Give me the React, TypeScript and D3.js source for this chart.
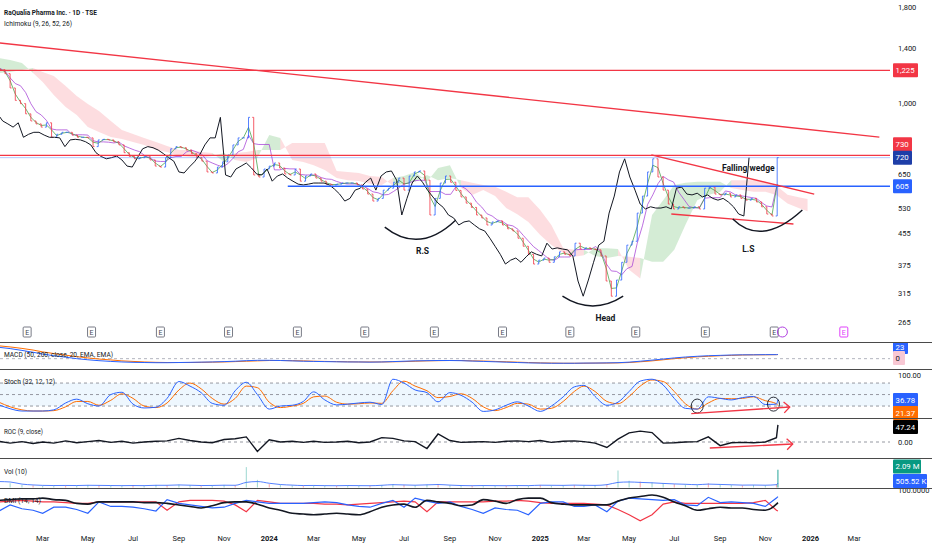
import React from 'react';
import * as d3 from 'd3';

const W = 932;
const H = 550;
const PLOT_R = 890;
const FONT = 'Roboto, sans-serif';

// weekly closes, first week starts 2022-09-12
const WEEK0 = new Date(2022, 8, 12);
const closes = [
  1060, 1090, 1110, 1140, 1170, 1200, 1230, 1260, 1290, 1310,
  1290, 1270, 1250, 1240, 1230, 1240, 1230, 1200, 1100, 1020,
  1000, 940, 900, 884, 867, 890, 815, 830, 840, 840,
  826, 815, 815, 812, 770, 802, 805, 802, 793, 778,
  742, 725, 715, 720, 727, 710, 684, 680, 720, 760,
  770, 765, 754, 738, 720, 705, 660, 656, 680, 702,
  732, 778, 812, 812, 920, 648, 640, 672, 684, 697,
  676, 652, 648, 672, 624, 644, 652, 636, 624, 613,
  610, 613, 617, 617, 617, 610, 595, 577, 553, 562,
  591, 598, 620, 636, 591, 644, 660, 664, 628, 508,
  562, 617, 644, 620, 590, 567, 546, 532, 508, 499,
  478, 487, 490, 478, 467, 461, 441, 420, 400, 377,
  386, 391, 381, 394, 406, 400, 396, 428, 413, 416,
  413, 411, 396, 340, 310, 342, 381, 423, 433, 514,
  570, 660, 715, 640, 591, 543, 527, 534, 530, 530,
  534, 527, 598, 602, 577, 574, 580, 567, 574, 562,
  556, 562, 550, 534, 511, 505, 720,
];

// ichimoku cloud edges, 1st and 16th of each month from Jan 2023, last one 2025-12-28
const cloudA = [
  1320, 1304, 1280, 1205, 1141, 1054, 980, 933, 868, 842,
  816, 806, 792, 778, 754, 745, 727, 723, 718, 727,
  741, 710, 701, 718, 826, 812, 710, 701, 688, 668,
  636, 628, 625, 614, 610, 636, 644, 660, 622, 676,
  688, 599, 574, 591, 570, 530, 510, 487, 450, 423,
  403, 394, 398, 415, 415, 413, 364, 345, 508, 556,
  610, 618, 622, 622, 622, 599, 591, 585, 585, 574,
  545, 530, 520,
];
const cloudB = [
  1205, 1212, 1227, 1242, 1212, 1183, 1113, 1048, 998, 956,
  900, 852, 831, 812, 792, 773, 754, 754, 745, 741,
  701, 741, 745, 754, 754, 754, 787, 787, 787, 787,
  664, 660, 656, 644, 640, 607, 614, 622, 648, 628,
  636, 628, 618, 610, 603, 585, 566, 566, 524, 478,
  415, 411, 411, 396, 391, 396, 394, 391, 382, 382,
  411, 478, 556, 574, 585, 628, 628, 628, 618, 607,
  575, 566, 560,
];

// indicator values, sampled on the 1st and 16th of each month from Jan 2023, last one 2025-11-18
const stochK = [
  23, 13, 7, 7, 7, 10, 28, 38, 26, 20, 50, 56, 25, 15, 17, 40, 84, 72, 55, 27,
  22, 60, 82, 50, 12, 20, 22, 32, 57, 36, 23, 25, 28, 30, 24, 90, 80, 62, 55, 31,
  55, 48, 30, 6, 10, 22, 31, 20, 6, 20, 44, 70, 74, 45, 22, 30, 58, 85, 90, 75,
  40, 14, 12, 44, 40, 36, 42, 45, 24, 25, 36.78,
];
const stochD = [
  30, 18, 10, 7, 7, 8, 18, 32, 32, 22, 35, 52, 40, 20, 16, 28, 62, 80, 65, 40,
  25, 40, 72, 68, 30, 16, 20, 27, 44, 46, 30, 25, 26, 28, 27, 60, 85, 72, 60, 42,
  45, 52, 40, 18, 8, 16, 27, 25, 12, 14, 32, 58, 72, 58, 32, 26, 45, 72, 88, 84,
  58, 26, 12, 28, 40, 39, 40, 44, 34, 26, 21.37,
];
const roc = [
  2, -3, 1, -4, 0, -3, 3, -2, 1, 4, -1, 2, -3, 0, 2, 3, 10, 4, 0, -2,
  7, 9, 14, -26, 6, 0, 2, -1, 2, -1, 0, 2, -2, 0, 12, 10, 3, 1, -18, 22,
  4, -1, 0, 1, -1, 2, 3, 1, 4, -1, 2, 3, 1, -3, -15, 8, 25, 30, 26, -3,
  -2, 0, 1, 14, -10, -2, -1, -2, 0, 12, 47.24,
];
const volume = [
  900, 500, 300, 250, 200, 220, 250, 200, 300, 250, 200, 200, 250, 200, 300, 250, 350, 250, 200, 250,
  300, 250, 2400, 900, 400, 300, 250, 200, 250, 200, 200, 250, 200, 200, 300, 400, 300, 250, 350, 400,
  250, 200, 200, 250, 200, 200, 250, 200, 300, 250, 250, 300, 250, 250, 400, 2000, 800, 700, 600, 500,
  400, 350, 300, 500, 350, 300, 250, 300, 250, 400, 2090,
];
const volumeMA = [
  700, 650, 400, 300, 250, 230, 240, 230, 260, 250, 230, 220, 230, 220, 260, 260, 300, 270, 230, 240,
  270, 260, 600, 700, 500, 350, 280, 230, 240, 220, 210, 230, 220, 210, 260, 330, 300, 270, 310, 350,
  280, 230, 210, 230, 220, 210, 230, 220, 270, 260, 250, 280, 260, 250, 330, 600, 650, 600, 550, 480,
  420, 380, 330, 400, 360, 320, 280, 290, 270, 330, 505.52,
];
const macd = [
  62, 55, 45, 35, 25, 16, 8, 0, -6, -11, -15, -18, -20, -21, -22, -22, -21, -20, -19, -18,
  -16, -14, -11, -9, -9, -10, -12, -14, -15, -16, -17, -18, -18, -19, -18, -16, -14, -12, -11, -10,
  -10, -11, -13, -15, -17, -19, -21, -23, -24, -25, -25, -25, -24, -24, -23, -22, -19, -14, -8, -2,
  4, 9, 13, 16, 18, 20, 21, 21, 22, 22, 23,
];
const macdSignal = [
  70, 64, 56, 47, 37, 28, 19, 11, 4, -2, -7, -12, -15, -18, -20, -21, -21, -21, -20, -19,
  -18, -16, -14, -12, -10, -10, -11, -12, -14, -15, -16, -17, -18, -18, -18, -17, -16, -14, -12, -11,
  -10, -10, -12, -13, -15, -17, -19, -21, -23, -24, -25, -25, -25, -24, -24, -23, -21, -17, -12, -6,
  0, 5, 10, 13, 16, 18, 20, 21, 21, 22, 22,
];
const adx = [
  39, 40, 41, 41, 42, 40, 39, 35, 34, 37, 37, 37, 37, 36, 36, 35, 33, 31, 29, 32,
  36, 37, 37, 34, 29, 26, 22, 21, 20, 21, 22, 21, 20, 24, 30, 33, 34, 30, 39, 37,
  35, 32, 33, 40, 38, 35, 40, 42, 42, 36, 34, 33, 33, 33, 33, 38, 42, 44, 46, 43,
  37, 32, 26, 28, 30, 29, 29, 27, 26, 34, 36,
];
const plusDI = [
  25, 33, 28, 26, 22, 30, 30, 27, 22, 37, 31, 31, 30, 28, 25, 40, 35, 33, 31, 29,
  30, 35, 39, 37, 35, 35, 35, 35, 36, 37, 36, 33, 31, 30, 35, 39, 30, 42, 38, 35,
  37, 31, 27, 22, 29, 27, 26, 20, 35, 37, 37, 31, 31, 33, 24, 38, 42, 41, 40, 39,
  40, 33, 32, 43, 36, 37, 36, 35, 31, 42, 44,
];
const minusDI = [
  37, 38, 39, 38, 37, 37, 36, 35, 35, 37, 37, 37, 37, 37, 37, 26, 37, 39, 39, 39,
  38, 33, 24, 39, 37, 35, 35, 35, 35, 34, 34, 33, 34, 35, 36, 37, 38, 37, 24, 37,
  37, 37, 37, 37, 38, 38, 39, 38, 36, 35, 35, 35, 35, 34, 33, 27, 20, 12, 20, 34,
  37, 35, 35, 35, 35, 35, 35, 36, 39, 26, 25,
];

const earnings = [
  '2023-02-08', '2023-05-06', '2023-08-07', '2023-11-07', '2024-02-08', '2024-05-09',
  '2024-08-11', '2024-11-11', '2025-02-10', '2025-05-10', '2025-08-12', '2025-11-13',
];
const nextEarnings = '2026-02-15';
const dividendDate = '2025-11-24';

// drawn levels and shapes (date, price)
const levels = [
  { price: 1225, from: '2022-11-01', color: '#f23645' },
  { price: 730, from: '2022-11-01', color: '#f23645' },
  { price: 605, from: '2024-01-26', color: '#2962ff' },
];
const downTrend: [string, number][] = [['2022-12-01', 1469], ['2026-04-04', 816]];
const wedgeTop: [string, number][] = [['2025-05-31', 732], ['2026-01-06', 577]];
const wedgeBottom: [string, number][] = [['2025-06-27', 511], ['2025-12-09', 481]];
const arcs: { pts: [string, number][]; label: string; at: [string, number] }[] = [
  { pts: [['2024-06-05', 472], ['2024-07-22', 399], ['2024-09-09', 493]], label: 'R.S', at: ['2024-07-26', 400] },
  { pts: [['2025-01-31', 310], ['2025-03-13', 275], ['2025-04-23', 310]], label: 'Head', at: ['2025-03-30', 266] },
  { pts: [['2025-09-18', 496], ['2025-10-27', 417], ['2025-12-21', 524]], label: 'L.S', at: ['2025-10-09', 405] },
];
const wedgeLabel: [string, number] = ['2025-10-09', 665];
const stochArrow: [string, number][] = [['2025-07-24', 0], ['2025-12-04', 17.5]];
const stochCircles: [string, number][] = [['2025-08-01', 20], ['2025-11-12', 25]];
const rocArrow: [string, number][] = [['2025-08-18', -16.5], ['2025-12-08', -5.5]];

const priceTicks = [1800, 1400, 1000, 650, 530, 455, 375, 315, 265];

const LAG_DAYS = 38;
const day = (s: string) => d3.timeParse('%Y-%m-%d')(s)!;

const hiLo = (i: number, n: number) => {
  const win = closes.slice(Math.max(0, i - n + 1), i + 1);
  return (d3.max(win)! + d3.min(win)!) / 2;
};

export default function App() {
  const x = d3.scaleTime().domain([new Date(2023, 0, 1), new Date(2026, 0, 1)]).range([-1, 810.5]);
  const y = d3.scaleLog().domain([265, 1800]).range([322, 7]);
  const yMacd = d3.scaleLinear().domain([-40, 80]).range([366, 344]);
  const yStoch = d3.scaleLinear().domain([0, 100]).range([413.7, 375.4]);
  const yRoc = d3.scaleLinear().domain([-44, 66]).range([458, 418]);
  const yVol = d3.scaleLinear().domain([0, 3000]).range([487.5, 462]);
  const yDmi = d3.scaleLinear().domain([0, 50]).range([530, 492]);

  const weekDates = closes.map((_, i) => d3.timeDay.offset(WEEK0, 7 * i));
  const halfMonths = d3.range(36).flatMap((m) => [new Date(2023, m, 1), new Date(2023, m, 16)]);
  const grid = [...halfMonths.slice(0, 70), new Date(2025, 10, 18)];
  const cloudDates = [...halfMonths, new Date(2025, 11, 28)];

  // conversion / base lines from the weekly closes (periods in weeks)
  const tenkan = closes.map((_, i) => hiLo(i, 2));
  const kijun = closes.map((_, i) => hiLo(i, 5));

  const cloudRuns: { idx: number[]; up: boolean }[] = [];
  for (let i = 0; i < cloudA.length - 1; i++) {
    const up = cloudA[i] + cloudA[i + 1] >= cloudB[i] + cloudB[i + 1];
    const last = cloudRuns[cloudRuns.length - 1];
    if (last && last.up === up) last.idx.push(i + 1);
    else cloudRuns.push({ idx: [i, i + 1], up });
  }
  const cloudArea = d3
    .area<number>()
    .x((i) => x(cloudDates[i]))
    .y0((i) => y(cloudA[i]))
    .y1((i) => y(cloudB[i]));

  const weekLine = (vals: number[], shift = 0) =>
    d3
      .line<number>()
      .x((_, i) => x(d3.timeDay.offset(weekDates[i], shift)))
      .y((v) => y(v))(vals) ?? '';

  const upBars = d3.path();
  const downBars = d3.path();
  closes.forEach((c, i) => {
    if (i === 0) return;
    const p = closes[i - 1];
    const xi = x(weekDates[i]);
    const path = c >= p ? upBars : downBars;
    path.moveTo(xi, y(p));
    path.lineTo(xi, y(c));
    path.moveTo(xi - 1.5, y(p));
    path.lineTo(xi, y(p));
    path.moveTo(xi, y(c));
    path.lineTo(xi + 1.5, y(c));
  });

  const gridLine = (vals: number[], sy: d3.ScaleLinear<number, number>, curve = d3.curveMonotoneX) =>
    d3
      .line<number>()
      .x((_, i) => x(grid[i]))
      .y((v) => sy(v))
      .curve(curve)(vals) ?? '';

  const ptLine = (pts: [string, number][], sy: (v: number) => number) =>
    d3
      .line<[string, number]>()
      .x((p) => x(day(p[0])))
      .y((p) => sy(p[1]))(pts) ?? '';

  const arrowHead = (pts: [string, number][], sy: (v: number) => number) => {
    const [a, b] = pts;
    const x1 = x(day(a[0])), y1 = sy(a[1]);
    const x2 = x(day(b[0])), y2 = sy(b[1]);
    const ang = Math.atan2(y2 - y1, x2 - x1);
    const L = 8;
    const p = d3.path();
    p.moveTo(x2 - L * Math.cos(ang - 0.75), y2 - L * Math.sin(ang - 0.75));
    p.lineTo(x2, y2);
    p.lineTo(x2 - L * Math.cos(ang + 0.75), y2 - L * Math.sin(ang + 0.75));
    return p.toString();
  };

  const arcPath = (pts: [string, number][]) => {
    const [a, c, b] = pts.map((p) => [x(day(p[0])), y(p[1])]);
    const p = d3.path();
    p.moveTo(a[0], a[1]);
    p.quadraticCurveTo(c[0], c[1], b[0], b[1]);
    return p.toString();
  };

  const monthTicks = d3.timeMonth.range(new Date(2023, 2, 1), new Date(2026, 3, 1), 2);
  const lastClose = closes[closes.length - 1];
  const separators = [342.5, 369.5, 418.5, 458.5, 488.5];

  const tag = (label: string, yc: number, bg: string, w: number, fg = '#fff') => (
    <g key={label}>
      <rect x={893} y={yc - 7} width={w} height={14} fill={bg} rx={1} />
      <text x={895.5} y={yc + 2.8} fontSize={7.8} fill={fg}>{label}</text>
    </g>
  );

  const textStyle = { fontSize: 7.5, fill: '#131722' };
  const legend = (label: string, yy: number, len: number) => (
    <text x={4} y={yy} {...textStyle} textLength={len} lengthAdjust="spacingAndGlyphs">{label}</text>
  );

  return (
    <svg
      width={W}
      height={H}
      style={{ position: 'fixed', left: 0, top: 0, background: '#fff' }}
      fontFamily={FONT}
    >
      <defs>
        <clipPath id="mainClip">
          <rect x={0} y={0} width={PLOT_R} height={341} />
        </clipPath>
        <clipPath id="indClip">
          <rect x={0} y={343} width={PLOT_R} height={190} />
        </clipPath>
        <clipPath id="macdTag">
          <rect x={880} y={343} width={52} height={30} />
        </clipPath>
      </defs>
      <rect width={W} height={H} fill="#fff" />

      {/* main price panel */}
      <g clipPath="url(#mainClip)">
        {cloudRuns.map((r, k) => (
          <path
            key={k}
            d={cloudArea(r.idx) ?? ''}
            fill={r.up ? 'rgba(76,175,80,0.24)' : 'rgba(242,54,69,0.17)'}
          />
        ))}
        <path d={weekLine(kijun)} fill="none" stroke="#a743d6" strokeWidth={0.9} opacity={0.85} />
        <path d={weekLine(tenkan)} fill="none" stroke="#43a047" strokeWidth={0.9} opacity={0.85} />
        <path d={upBars.toString()} fill="none" stroke="#2962ff" strokeWidth={1} opacity={0.8} />
        <path d={downBars.toString()} fill="none" stroke="#f23645" strokeWidth={1} opacity={0.8} />
        <path d={weekLine(closes, -LAG_DAYS)} fill="none" stroke="#131722" strokeWidth={1} />

        <line x1={0} x2={893} y1={y(lastClose)} y2={y(lastClose)} stroke="#2962ff" strokeOpacity={0.35} />
        {levels.map((l) => (
          <line
            key={l.price}
            x1={x(day(l.from))}
            x2={893}
            y1={y(l.price)}
            y2={y(l.price)}
            stroke={l.color}
            strokeWidth={1.3}
          />
        ))}
        <path d={ptLine(downTrend, y)} stroke="#f23645" strokeWidth={1.4} fill="none" />
        <path d={ptLine(wedgeTop, y)} stroke="#f23645" strokeWidth={1.4} fill="none" />
        <path d={ptLine(wedgeBottom, y)} stroke="#f23645" strokeWidth={1.4} fill="none" />
        {arcs.map((a) => (
          <g key={a.label}>
            <path d={arcPath(a.pts)} stroke="#131722" strokeWidth={1.4} fill="none" />
            <text x={x(day(a.at[0]))} y={y(a.at[1])} textAnchor="middle" fontSize={8.5} fontWeight="bold" fill="#131722">
              {a.label}
            </text>
          </g>
        ))}
        <text x={x(day(wedgeLabel[0]))} y={y(wedgeLabel[1])} textAnchor="middle" fontSize={8.5} fontWeight="bold" fill="#131722">
          Falling wedge
        </text>
      </g>

      {/* earnings markers */}
      {earnings.map((e) => (
        <g key={e}>
          <rect x={x(day(e)) - 4} y={327} width={8} height={10} fill="#fff" stroke="#787b86" rx={1} />
          <text x={x(day(e))} y={335} textAnchor="middle" fontSize={7} fill="#434651">E</text>
        </g>
      ))}
      <circle cx={x(day(dividendDate))} cy={332} r={5} fill="none" stroke="#b040e0" />
      <rect x={x(day(nextEarnings)) - 4} y={327} width={8} height={10} fill="#fff" stroke="#e040fb" rx={1} />
      <text x={x(day(nextEarnings))} y={335} textAnchor="middle" fontSize={7} fill="#e040fb">E</text>

      {/* header */}
      <text x={4} y={14.5} fontSize={7.8} fontWeight="bold" fill="#131722" textLength={93} lengthAdjust="spacingAndGlyphs">
        RaQualia Pharma Inc. · 1D · TSE
      </text>
      {legend('Ichimoku (9, 26, 52, 26)', 26, 68)}

      {/* price axis */}
      {priceTicks.map((t) => (
        <text key={t} x={898} y={y(t) + 2.8} {...textStyle}>{d3.format(',')(t)}</text>
      ))}
      {tag('1,225', y(1225), '#f23645', 25)}
      {tag('730', y(720) - 13.5, '#f23645', 19)}
      {tag('720', y(720), '#1e3ea8', 19)}
      {tag('605', y(605), '#2962ff', 19)}

      {/* indicator panels */}
      <g clipPath="url(#indClip)">
        <line x1={0} x2={893} y1={yMacd(0)} y2={yMacd(0)} stroke="#b2b5be" strokeDasharray="3,3" />
        <path d={gridLine(macdSignal, yMacd)} fill="none" stroke="#ff6d00" strokeWidth={1} />
        <path d={gridLine(macd, yMacd)} fill="none" stroke="#2962ff" strokeWidth={1} />

        <rect x={0} width={893} y={yStoch(80)} height={yStoch(20) - yStoch(80)} fill="rgba(33,150,243,0.08)" />
        {[80, 50, 20].map((v) => (
          <line key={v} x1={0} x2={893} y1={yStoch(v)} y2={yStoch(v)} stroke="#9598a1" strokeDasharray="3,3" />
        ))}
        <path d={gridLine(stochD, yStoch)} fill="none" stroke="#ff6d00" strokeWidth={1} />
        <path d={gridLine(stochK, yStoch)} fill="none" stroke="#2962ff" strokeWidth={1} />
        {stochCircles.map((c) => (
          <ellipse key={c[0]} cx={x(day(c[0]))} cy={yStoch(c[1])} rx={6} ry={7} fill="none" stroke="#131722" strokeWidth={0.9} />
        ))}
        <path d={ptLine(stochArrow, yStoch)} stroke="#f23645" strokeWidth={1.3} fill="none" />
        <path d={arrowHead(stochArrow, yStoch)} stroke="#f23645" strokeWidth={1.3} fill="none" />

        <line x1={0} x2={893} y1={yRoc(0)} y2={yRoc(0)} stroke="#9598a1" strokeDasharray="3,3" />
        <path d={gridLine(roc, yRoc, d3.curveLinear)} fill="none" stroke="#131722" strokeWidth={1.4} />
        <path d={ptLine(rocArrow, yRoc)} stroke="#f23645" strokeWidth={1.3} fill="none" />
        <path d={arrowHead(rocArrow, yRoc)} stroke="#f23645" strokeWidth={1.3} fill="none" />

        {volume.map((v, i) => (
          <rect
            key={i}
            x={x(grid[i]) - 0.5}
            width={1}
            y={yVol(v)}
            height={yVol(0) - yVol(v)}
            fill={i === volume.length - 1 ? '#26a69a' : i % 3 === 0 ? 'rgba(242,54,69,0.45)' : 'rgba(38,166,154,0.45)'}
          />
        ))}
        <path d={gridLine(volumeMA, yVol)} fill="none" stroke="#2962ff" strokeWidth={1} opacity={0.8} />

        <path d={gridLine(minusDI, yDmi, d3.curveLinear)} fill="none" stroke="#f23645" strokeWidth={1.2} />
        <path d={gridLine(plusDI, yDmi, d3.curveLinear)} fill="none" stroke="#2962ff" strokeWidth={1.2} />
        <path d={gridLine(adx, yDmi)} fill="none" stroke="#131722" strokeWidth={1.6} />
      </g>

      <g clipPath="url(#macdTag)">{tag('23', 347, '#2962ff', 15)}</g>
      {tag('0', 358, '#f8c8d4', 12, '#131722')}
      <text x={898} y={378} {...textStyle}>100.00</text>
      {tag('36.78', 400, '#2962ff', 25)}
      {tag('21.37', 413, '#ff6d00', 25)}
      {tag('47.24', 427, '#000000', 25)}
      <text x={898} y={445} {...textStyle}>0.00</text>
      {tag('2.09 M', 466.5, '#089981', 28)}
      {tag('505.52 K', 481, '#2962ff', 34)}
      <text x={898} y={493} {...textStyle}>100.0000</text>

      {separators.map((s) => (
        <line key={s} x1={0} x2={W} y1={s} y2={s} stroke="#4a4a4a" strokeWidth={1} />
      ))}

      {legend('MACD (50, 200, close, 20, EMA, EMA)', 357, 109)}
      {legend('Stoch (32, 12, 12)', 384, 51)}
      {legend('ROC (9, close)', 434, 39)}
      {legend('Vol (10)', 474, 23)}
      {legend('DMI (14, 14)', 503, 37)}

      {/* time axis */}
      {monthTicks.map((m) => (
        <text
          key={m.toISOString()}
          x={x(m)}
          y={541}
          textAnchor="middle"
          fontSize={7.5}
          fontWeight={m.getMonth() === 0 ? 'bold' : 'normal'}
          fill="#131722"
        >
          {m.getMonth() === 0 ? m.getFullYear() : d3.timeFormat('%b')(m)}
        </text>
      ))}
    </svg>
  );
}
